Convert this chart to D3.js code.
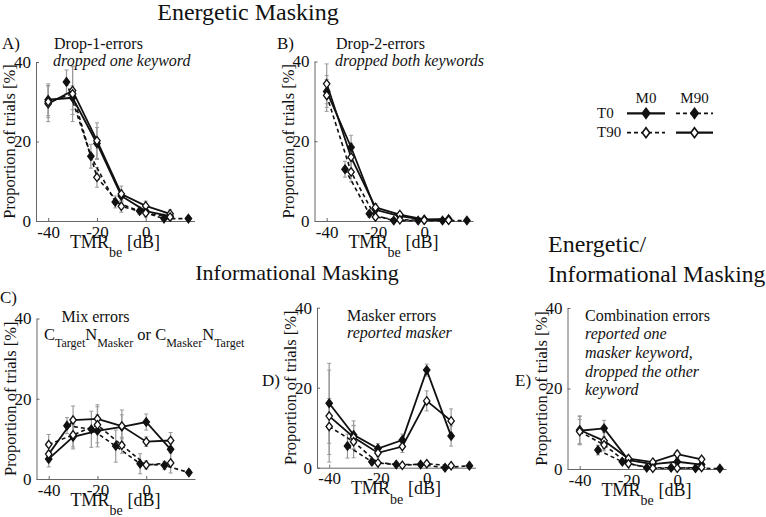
<!DOCTYPE html>
<html><head><meta charset="utf-8">
<script src="https://cdn.jsdelivr.net/npm/d3@7"></script>
<style>
body{margin:0;background:#fff}
text{font-family:"Liberation Serif","Times New Roman",serif;fill:#111}
</style>
</head><body><svg id="c" width="766" height="517" font-family="Liberation Serif, serif"></svg>
<script>
// ---------- data ----------
const xTicks = [-40, -20, 0];
const xTickLabels = ["-40", "-20", "0"];
const yTicks = [0, 20, 40];
const xTMR = [-40, -30, -20, -10, 0, 10];          // T0M0, T90M90, T90M0
const xTMRbe = [-32.5, -22.5, -12.5, -2.5, 7.5, 17.5]; // T0M90 (better-ear shift)
const seriesKeys = ["T0M0", "T90M90", "T0M90", "T90M0"];

// A) Drop-1-errors
const A_T0M0   = [30.5, 31, 19.5, 6.3, 2.5, 1.2];
const A_T90M90 = [29.5, 32.8, 20.2, 6.8, 3.8, 1.8];
const A_T0M90  = [35, 16.3, 4.8, 2.5, 0.6, 0.6];
const A_T90M0  = [30, 32, 11, 3.7, 2, 1];
const A_errT0M0   = [4, 3, 4, 1.5, 1, 0.8];
const A_errT90M90 = [4.5, 6, 4.5, 2, 1.2, 1];
const A_errT0M90  = [3, 3, 1.5, 0.8, 0.5, 0.5];
const A_errT90M0  = [4, 7, 2.5, 1.5, 1, 0.8];

// B) Drop-2-errors
const B_T0M0   = [32.5, 18.5, 2.8, 1.2, 0.3, 0.3];
const B_T90M90 = [34.4, 16, 3.4, 1.6, 0.4, 0.5];
const B_T0M90  = [13, 1.8, 0.1, 0.1, 0.1, 0.1];
const B_T90M0  = [31.5, 12.3, 1.0, 0.3, 0.2, 0.2];
const B_errT0M0   = [4, 3, 1, 0.5, 0.3, 0.3];
const B_errT90M90 = [5, 3.5, 1, 0.6, 0.3, 0.3];
const B_errT0M90  = [2, 0.8, 0.2, 0.2, 0.2, 0.2];
const B_errT90M0  = [4, 2.5, 0.6, 0.3, 0.2, 0.2];

// C) Mix errors
const C_T0M0   = [5, 10.5, 12, 13, 14.2, 7.4];
const C_T90M90 = [6.2, 14.7, 15, 13.2, 9.3, 9.6];
const C_T0M90  = [13.3, 12.4, 8.2, 3.8, 3.4, 1.6];
const C_T90M0  = [8.6, 11, 13.5, 8.4, 3.5, 4];
const C_errT0M0   = [2, 3, 4, 3, 2, 3];
const C_errT90M90 = [2, 3.5, 3.5, 4, 1.2, 2];
const C_errT0M90  = [2, 4.5, 4, 2.5, 1, 0.7];
const C_errT90M0  = [2.5, 3, 4.5, 2, 1, 2.5];

// D) Masker errors
const D_T0M0   = [16.1, 8.2, 4.8, 6.9, 24.4, 7.9];
const D_T90M90 = [12.9, 7.6, 3.7, 5.3, 16.7, 11.7];
const D_T0M90  = [5.4, 1.5, 0.8, 0.8, 0.0, 0.5];
const D_T90M0  = [10.3, 6.5, 1.2, 0.6, 1.0, 0.5];
const D_errT0M0   = [10, 3.5, 1.2, 1.5, 1.5, 2.5];
const D_errT90M90 = [11.5, 3, 1, 1.5, 2.5, 3];
const D_errT0M90  = [3, 0.8, 0.3, 0.3, 0.3, 0.3];
const D_errT90M0  = [7, 4, 0.5, 0.3, 0.3, 0.3];

// E) Combination errors
const E_T0M0   = [9.5, 10.1, 2.2, 1.2, 1.8, 1.1];
const E_T90M90 = [9.7, 7, 2.6, 1.7, 3.7, 2.4];
const E_T0M90  = [4.7, 1.8, 0.3, 0.3, 0.2, 0.1];
const E_T90M0  = [9.3, 6, 1.3, 0.2, 0.2, 0.4];
const E_errT0M0   = [3.5, 2, 0.8, 0.5, 0.8, 0.5];
const E_errT90M90 = [3.5, 2, 0.8, 0.5, 0.8, 0.6];
const E_errT0M90  = [1.2, 0.6, 0.2, 0.2, 0.2, 0.2];
const E_errT90M0  = [3, 1.5, 0.5, 0.2, 0.2, 0.2];

// ---------- drawing ----------
const svg = d3.select("#c");
svg.append("rect").attr("width", 766).attr("height", 517).attr("fill", "#fff");

const styles = {
  T0M0:   {dash: null,  filled: true},
  T90M90: {dash: null,  filled: false},
  T0M90:  {dash: "4,3", filled: true},
  T90M0:  {dash: "4,3", filled: false}
};
const diamond = "M0,-4.2L3.2,0L0,4.2L-3.2,0Z";

function panelData(vals) {
  return seriesKeys.map((k, i) => ({
    key: k,
    xs: k === "T0M90" ? xTMRbe : xTMR,
    ys: vals[i],
    es: vals[i + 4]
  }));
}

const panels = [
  {left: 36,    top: 62,    bottom: 221,   series: panelData([A_T0M0, A_T90M90, A_T0M90, A_T90M0, A_errT0M0, A_errT90M90, A_errT0M90, A_errT90M0])},
  {left: 314.5, top: 61.5,  bottom: 221,   series: panelData([B_T0M0, B_T90M90, B_T0M90, B_T90M0, B_errT0M0, B_errT90M90, B_errT0M90, B_errT90M0])},
  {left: 36.5,  top: 318.5, bottom: 479,   series: panelData([C_T0M0, C_T90M90, C_T0M90, C_T90M0, C_errT0M0, C_errT90M90, C_errT0M90, C_errT90M0])},
  {left: 317,   top: 307.7, bottom: 467.7, series: panelData([D_T0M0, D_T90M90, D_T0M90, D_T90M0, D_errT0M0, D_errT90M90, D_errT0M90, D_errT90M0])},
  {left: 567.5, top: 308,   bottom: 469,   series: panelData([E_T0M0, E_T90M90, E_T0M90, E_T90M0, E_errT0M0, E_errT90M90, E_errT0M90, E_errT90M0])}
];

panels.forEach(p => {
  const g = svg.append("g");
  const x = d3.scaleLinear().domain([-45, 20]).range([p.left, p.left + 158.5]);
  const y = d3.scaleLinear().domain([0, 40]).range([p.bottom, p.top]);

  const ax = g.append("g").attr("transform", `translate(0,${p.bottom})`)
    .call(d3.axisBottom(x).tickValues(xTicks).tickFormat((d, i) => xTickLabels[i])
      .tickSizeInner(-3).tickSizeOuter(0).tickPadding(4.5));
  const ay = g.append("g").attr("transform", `translate(${p.left},0)`)
    .call(d3.axisLeft(y).tickValues(yTicks).tickSizeInner(-3).tickSizeOuter(0).tickPadding(5));
  [ax, ay].forEach(a => {
    a.attr("font-family", "Liberation Serif, serif").attr("font-size", null);
    a.selectAll("path,line").attr("stroke", "#666").attr("stroke-width", 1);
    a.selectAll("text").attr("font-size", 17).attr("fill", "#111");
  });

  // axis labels
  const xl = g.append("text").attr("x", p.left + 79).attr("y", p.bottom + 26.5)
    .attr("text-anchor", "middle").attr("font-size", 18);
  xl.append("tspan").text("TMR");
  xl.append("tspan").attr("font-size", 14).attr("dy", 9.5).text("be");
  xl.append("tspan").attr("dy", -9.5).attr("dx", 5).text("[dB]");

  g.append("text").attr("transform", `translate(${p.left - 21},${(p.top + p.bottom) / 2}) rotate(-90)`)
    .attr("text-anchor", "middle").attr("font-size", 16.5).text("Proportion of trials [%]");

  // error bars
  p.series.forEach(s => {
    s.ys.forEach((v, i) => {
      const cx = x(s.xs[i]), y1 = y(v - s.es[i]), y2 = y(v + s.es[i]);
      g.append("line").attr("x1", cx).attr("x2", cx).attr("y1", y1).attr("y2", y2)
        .attr("stroke", "#9a9a9a").attr("stroke-width", 1.2);
      [y1, y2].forEach(yy => g.append("line").attr("x1", cx - 2).attr("x2", cx + 2)
        .attr("y1", yy).attr("y2", yy).attr("stroke", "#9a9a9a").attr("stroke-width", 1));
    });
  });

  // lines
  const line = d3.line().x(d => x(d[0])).y(d => y(d[1]));
  p.series.forEach(s => {
    g.append("path").attr("d", line(s.xs.map((xx, i) => [xx, s.ys[i]])))
      .attr("fill", "none").attr("stroke", "#111")
      .attr("stroke-width", styles[s.key].dash ? 1.6 : 1.8)
      .attr("stroke-dasharray", styles[s.key].dash);
  });
  // markers
  p.series.forEach(s => {
    s.ys.forEach((v, i) => {
      g.append("path").attr("d", diamond)
        .attr("transform", `translate(${x(s.xs[i])},${y(v)})`)
        .attr("fill", styles[s.key].filled ? "#111" : "#fff")
        .attr("stroke", "#111").attr("stroke-width", 1.3);
    });
  });
});

// ---------- titles & annotations ----------
function txt(x, y, s, size, opts = {}) {
  const t = svg.append("text").attr("x", x).attr("y", y).attr("font-size", size).text(s);
  if (opts.italic) t.attr("font-style", "italic");
  if (opts.anchor) t.attr("text-anchor", opts.anchor);
  return t;
}
txt(248, 20, "Energetic Masking", 24, {anchor: "middle"});
txt(297, 280, "Informational Masking", 22, {anchor: "middle"});
txt(548, 252, "Energetic/", 24);
txt(548, 282, "Informational Masking", 23.5);

txt(2, 48.5, "A)", 17);
txt(54, 49, "Drop-1-errors", 16);
txt(53, 66, "dropped one keyword", 16, {italic: true});

txt(277, 48.5, "B)", 17);
txt(336, 49, "Drop-2-errors", 16);
txt(335, 66, "dropped both keywords", 16, {italic: true});

txt(0, 303, "C)", 17);
txt(61.5, 321.5, "Mix errors", 16);
const f = svg.append("text").attr("x", 44).attr("y", 340).attr("font-size", 16.5);
[["C", 0], ["Target", 1], ["N", 0], ["Masker", 1], [" or C", 0], ["Masker", 1], ["N", 0], ["Target", 1]]
  .forEach(([s, sub], i, arr) => {
    const prevSub = i > 0 ? arr[i - 1][1] : 0;
    const t = f.append("tspan").text(s).attr("font-size", sub ? 12 : 16.5);
    if (sub && !prevSub) t.attr("dy", 7);
    if (!sub && prevSub) t.attr("dy", -7);
  });
f.attr("xml:space", "preserve");

txt(262, 386, "D)", 17);
txt(347, 321, "Masker errors", 16);
txt(347, 338, "reported masker", 16, {italic: true});

txt(515, 386, "E)", 17);
txt(585, 321, "Combination errors", 16);
txt(585, 338.5, "reported one", 16, {italic: true});
txt(585, 357.5, "masker keyword,", 16, {italic: true});
txt(585, 376.5, "dropped the other", 16, {italic: true});
txt(585, 395, "keyword", 16, {italic: true});

// ---------- legend ----------
const legendCols = ["M0", "M90"];
const legendRows = ["T0", "T90"];
const lg = svg.append("g");
const colX = [[627, 665], [676, 713]];
const rowY = [113.3, 132.7];
legendCols.forEach((c, i) => txt((colX[i][0] + colX[i][1]) / 2, 102.7, c, 15, {anchor: "middle"}));
legendRows.forEach((r, j) => txt(597, rowY[j] + 4.5, r, 15));
const legendKeys = [["T0M0", "T0M90"], ["T90M0", "T90M90"]];
legendKeys.forEach((row, j) => row.forEach((k, i) => {
  const st = styles[k];
  lg.append("line").attr("x1", colX[i][0]).attr("x2", colX[i][1]).attr("y1", rowY[j]).attr("y2", rowY[j])
    .attr("stroke", "#111").attr("stroke-width", st.dash ? 1.8 : 2.2).attr("stroke-dasharray", st.dash);
  lg.append("path").attr("d", "M0,-5L3.7,0L0,5L-3.7,0Z")
    .attr("transform", `translate(${(colX[i][0] + colX[i][1]) / 2},${rowY[j]})`)
    .attr("fill", st.filled ? "#111" : "#fff").attr("stroke", "#111").attr("stroke-width", 1.6);
}));
</script>
</body></html>
